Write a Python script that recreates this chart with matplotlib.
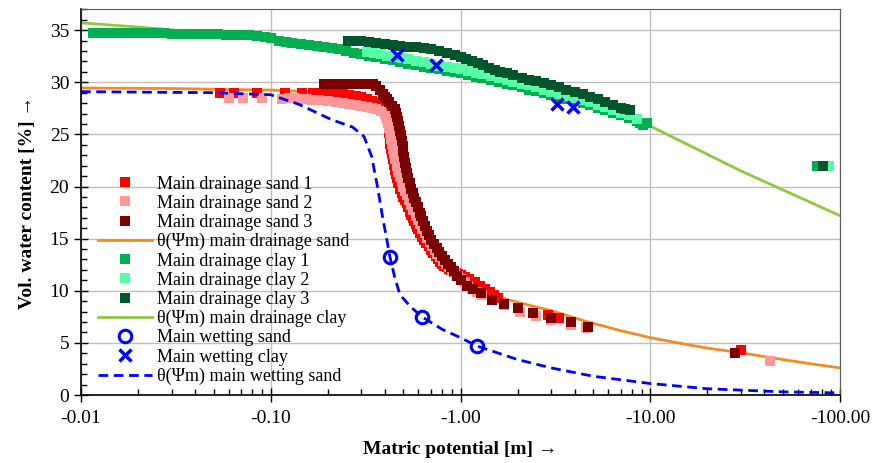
import matplotlib
matplotlib.use("Agg")
import matplotlib.pyplot as plt
from matplotlib.ticker import FixedLocator, LogLocator, MultipleLocator, FuncFormatter, NullFormatter

plt.rcParams['font.family'] = ['Liberation Serif', 'DejaVu Serif']

# suction magnitude |Psi_m| in m (axis shows negative matric potential)
sand1_psi = [0.054, 0.064, 0.085, 0.119, 0.147, 0.167, 0.18, 0.195, 0.21, 0.225, 0.24, 0.26, 0.28, 0.30,
             0.32, 0.34, 0.36, 0.38, 0.395, 0.40, 0.405, 0.41, 0.415, 0.418, 0.421, 0.424, 0.427, 0.43,
             0.435, 0.44, 0.445, 0.45, 0.455, 0.46, 0.47, 0.48, 0.49, 0.50, 0.51, 0.52, 0.53, 0.54, 0.55,
             0.56, 0.57, 0.58, 0.59, 0.60, 0.615, 0.63, 0.645, 0.66, 0.68, 0.70, 0.72, 0.74, 0.76, 0.78,
             0.80, 0.82, 0.845, 0.87, 0.895, 0.92, 0.945, 0.97, 1.0, 1.05, 1.11, 1.19, 1.27, 1.35, 1.43,
             1.5, 1.57, 2.9, 3.3, 30.2]
sand1_theta = [29.0, 29.0, 29.0, 29.0, 29.0, 29.0, 29.0, 28.95, 28.9, 28.9, 28.85, 28.8, 28.7, 28.6,
               28.4, 28.2, 28.0, 27.8, 27.5, 27.2, 26.9, 26.5, 26.1, 25.6, 25.1, 24.6, 24.1, 23.6,
               23.1, 22.6, 22.1, 21.6, 21.2, 20.8, 20.3, 19.8, 19.4, 19.0, 18.7, 18.4, 18.0, 17.6, 17.3,
               17.0, 16.7, 16.4, 16.15, 15.9, 15.55, 15.2, 14.9, 14.6, 14.25, 13.9, 13.6, 13.3, 13.05, 12.8,
               12.6, 12.4, 12.25, 12.1, 11.95, 11.8, 11.7, 11.6, 11.5, 11.3, 11.1, 10.8, 10.5, 10.2, 9.9,
               9.6, 9.3, 7.7, 7.4, 4.3]

sand2_psi = [0.06, 0.071, 0.09, 0.114, 0.125, 0.135, 0.145, 0.155, 0.165, 0.18, 0.2, 0.22, 0.24, 0.26,
             0.28, 0.30, 0.32, 0.34, 0.36, 0.38, 0.40, 0.405, 0.41, 0.415, 0.42, 0.425, 0.43, 0.435, 0.44,
             0.445, 0.45, 0.46, 0.47, 0.48, 0.49, 0.50, 0.51, 0.52, 0.535, 0.55, 0.565, 0.58, 0.595, 0.61,
             0.63, 0.65, 0.67, 0.69, 0.71, 0.73, 0.755, 0.78, 0.81, 0.84, 0.87, 0.90, 0.935, 0.97, 1.01,
             1.05, 1.1, 1.15, 1.22, 1.3, 1.7, 2.05, 2.5, 3.0, 3.8, 4.6, 43.0]
sand2_theta = [28.5, 28.5, 28.5, 28.4, 28.5, 28.5, 28.4, 28.4, 28.3, 28.3, 28.2, 28.1, 28.0, 27.9,
               27.8, 27.7, 27.6, 27.5, 27.4, 27.2, 27.0, 26.8, 26.5, 26.1, 25.6, 25.1, 24.6, 24.1, 23.6,
               23.1, 22.6, 22.0, 21.4, 20.9, 20.4, 20.0, 19.6, 19.2, 18.7, 18.2, 17.7, 17.2, 16.8, 16.4,
               15.9, 15.5, 15.1, 14.7, 14.3, 13.9, 13.55, 13.2, 12.9, 12.6, 12.3, 12.0, 11.7, 11.4, 11.1,
               10.8, 10.5, 10.2, 9.9, 9.6, 8.6, 8.0, 7.6, 7.2, 6.7, 6.4, 3.3]

sand3_psi = [0.19, 0.20, 0.21, 0.22, 0.23, 0.26, 0.27, 0.30, 0.31, 0.32, 0.33, 0.345, 0.36, 0.375, 0.39,
             0.40, 0.41, 0.42, 0.435, 0.45, 0.458, 0.465, 0.47, 0.475, 0.48, 0.485, 0.49, 0.495, 0.50,
             0.505, 0.51, 0.515, 0.52, 0.53, 0.54, 0.55, 0.56, 0.57, 0.58, 0.595, 0.61, 0.62, 0.635, 0.65,
             0.665, 0.68, 0.70, 0.725, 0.75, 0.775, 0.80, 0.83, 0.86, 0.89, 0.92, 0.96, 1.0, 1.08, 1.16,
             1.29, 1.46, 1.7, 2.0, 2.4, 3.0, 3.8, 4.7, 28.0]
sand3_theta = [29.8, 29.8, 29.8, 29.8, 29.8, 29.8, 29.8, 29.8, 29.8, 29.8, 29.8, 29.8, 29.6, 29.3, 28.9,
               28.6, 28.35, 28.1, 27.75, 27.4, 27.05, 26.7, 26.25, 25.8, 25.35, 24.9, 24.4, 23.9, 23.4,
               22.8, 22.3, 21.8, 21.3, 20.8, 20.3, 19.8, 19.4, 18.9, 18.5, 18.0, 17.5, 17.15, 16.7, 16.2,
               15.75, 15.35, 14.9, 14.5, 14.1, 13.7, 13.35, 12.95, 12.6, 12.25, 11.9, 11.45, 11.0, 10.5, 10.2,
               9.8, 9.1, 8.7, 8.3, 7.9, 7.4, 7.0, 6.5, 4.0]

sand_fit_psi = [0.01, 0.03, 0.063, 0.1, 0.16, 0.21, 0.27, 0.32, 0.35, 0.38, 0.40, 0.42, 0.44, 0.46, 0.48,
                0.51, 0.55, 0.60, 0.65, 0.72, 0.80, 0.90, 1.0, 1.2, 1.66, 2.2, 3.0, 4.5, 6.9, 10.0,
                15.0, 20.0, 30.0, 50.0, 70.0, 100.0]
sand_fit_theta = [29.45, 29.4, 29.3, 29.25, 29.1, 28.95, 28.75, 28.55, 28.3, 27.9, 27.3, 26.6, 25.8, 24.2,
                  22.5, 20.6, 18.5, 16.7, 15.0, 13.6, 12.3, 11.5, 10.9, 10.2, 9.3, 8.7, 8.1, 7.1, 6.2, 5.5,
                  4.9, 4.5, 4.05, 3.4, 3.0, 2.6]

clay1_psi = [0.0115, 0.0125, 0.0135, 0.0145, 0.016, 0.0175, 0.019, 0.021, 0.023, 0.025, 0.0275, 0.030,
             0.033, 0.036, 0.040, 0.044, 0.048, 0.053, 0.058, 0.064, 0.070, 0.077, 0.085, 0.093, 0.10,
             0.11, 0.12, 0.13, 0.145, 0.16, 0.175, 0.19, 0.21, 0.23, 0.25, 0.275, 0.30, 0.33, 0.36, 0.40,
             0.44, 0.48, 0.53, 0.58, 0.64, 0.70, 0.77, 0.85, 0.93, 1.0, 1.1, 1.2, 1.3, 1.45, 1.6, 1.75,
             1.9, 2.1, 2.3, 2.5, 2.75, 3.0, 3.3, 3.6, 4.0, 4.4, 4.8, 5.3, 5.8, 6.4, 7.0, 7.7, 8.5, 8.8,
             9.2, 9.6, 76.0]
clay1_theta = [34.7, 34.7, 34.7, 34.7, 34.7, 34.7, 34.7, 34.7, 34.7, 34.7, 34.7, 34.65,
               34.65, 34.65, 34.6, 34.6, 34.6, 34.6, 34.55, 34.55, 34.5, 34.5, 34.45, 34.35, 34.2,
               34.0, 33.9, 33.8, 33.65, 33.55, 33.45, 33.4, 33.3, 33.15, 33.0, 32.85, 32.7, 32.55, 32.4, 32.25,
               32.1, 31.95, 31.8, 31.65, 31.5, 31.4, 31.25, 31.1, 31.0, 30.85, 30.7, 30.55, 30.4, 30.2, 30.0, 29.85,
               29.7, 29.5, 29.3, 29.15, 28.95, 28.75, 28.55, 28.4, 28.2, 28.0, 27.8, 27.55, 27.35, 27.1, 26.9,
               26.6, 26.3, 26.1, 25.9, 26.1, 22.0]

clay2_psi = [0.32, 0.35, 0.38, 0.41, 0.45, 0.49, 0.53, 0.58, 0.64, 0.70, 0.77, 0.85, 0.93, 1.0, 1.1,
             1.2, 1.3, 1.45, 1.6, 1.75, 1.9, 2.1, 2.3, 2.5, 2.75, 3.0, 3.3, 3.6, 4.0, 4.4, 4.8, 5.3, 5.8,
             6.4, 7.0, 7.7, 8.5, 87.0]
clay2_theta = [32.9, 32.8, 32.7, 32.55, 32.45, 32.3, 32.2, 32.05, 31.9, 31.75, 31.6, 31.45, 31.35, 31.25,
               31.05, 30.9, 30.75, 30.6, 30.4, 30.25, 30.05, 29.85, 29.7, 29.5, 29.3, 29.1, 28.9, 28.7,
               28.5, 28.3, 28.1, 27.85, 27.6, 27.35, 27.1, 26.85, 26.5, 22.0]

clay3_psi = [0.256, 0.275, 0.30, 0.33, 0.36, 0.40, 0.44, 0.48, 0.53, 0.58, 0.64, 0.70, 0.77, 0.85, 0.93,
             1.0, 1.07, 1.15, 1.23, 1.32, 1.42, 1.52, 1.62, 1.75, 1.9, 2.1, 2.3, 2.5, 2.75, 3.0, 3.3, 3.6,
             4.0, 4.4, 4.8, 5.3, 5.8, 6.4, 7.0, 7.4, 7.8, 81.0]
clay3_theta = [34.0, 34.0, 33.95, 33.9, 33.8, 33.7, 33.6, 33.5, 33.4, 33.35, 33.25, 33.15, 33.0, 32.8, 32.6,
               32.45, 32.25, 32.05, 31.85, 31.65, 31.4, 31.2, 31.0, 30.85, 30.65, 30.45, 30.25, 30.1, 29.9,
               29.7, 29.5, 29.3, 29.05, 28.85, 28.6, 28.35, 28.1, 27.85, 27.55, 27.4, 27.3, 22.0]

clay_fit_psi = [0.01, 0.02, 0.042, 0.1, 0.3, 1.0, 3.0, 10.0, 30.0, 100.0]
clay_fit_theta = [35.7, 35.3, 34.8, 34.4, 33.0, 31.3, 28.9, 25.8, 21.5, 17.2]

wet_sand_psi = [0.425, 0.627, 1.22]
wet_sand_theta = [13.2, 7.5, 4.7]

wet_clay_psi = [0.46, 0.74, 3.23, 3.93]
wet_clay_theta = [32.6, 31.7, 27.9, 27.6]

wet_fit_psi = [0.01, 0.05, 0.1, 0.14, 0.21, 0.27, 0.31, 0.34, 0.365, 0.39, 0.41, 0.425, 0.45, 0.48,
               0.55, 0.627, 0.8, 1.0, 1.22, 2.0, 3.0, 5.0, 10.0, 20.0, 50.0, 100.0]
wet_fit_theta = [29.1, 29.0, 28.8, 27.9, 26.4, 25.7, 24.8, 22.9, 20.0, 16.9, 14.8, 13.2, 11.3, 9.6,
                 8.4, 7.5, 6.3, 5.5, 4.7, 3.4, 2.6, 1.8, 1.1, 0.6, 0.3, 0.2]

fig = plt.figure(figsize=(8.74, 4.63), dpi=100)
ax = fig.add_axes([81 / 874, 1 - 395 / 463, 759 / 874, 385.7 / 463])

ms = 6.5
ax.plot(sand_fit_psi, sand_fit_theta, color='#F58B27', lw=2, zorder=2, label='θ(Ψm) main drainage sand')
ax.plot(clay_fit_psi, clay_fit_theta, color='#92C83E', lw=2, zorder=2, label='θ(Ψm) main drainage clay')
ax.plot(sand1_psi, sand1_theta, 's', color='#FF0000', ms=ms, mew=0, zorder=3, label='Main drainage sand 1')
ax.plot(sand2_psi, sand2_theta, 's', color='#FF9999', ms=ms, mew=0, zorder=3, label='Main drainage sand 2')
ax.plot(sand3_psi, sand3_theta, 's', color='#7B0000', ms=ms, mew=0, zorder=3, label='Main drainage sand 3')
ax.plot(clay1_psi, clay1_theta, 's', color='#00B050', ms=ms, mew=0, zorder=3, label='Main drainage clay 1')
ax.plot(clay2_psi, clay2_theta, 's', color='#55FFA5', ms=ms, mew=0, zorder=3, label='Main drainage clay 2')
ax.plot(clay3_psi, clay3_theta, 's', color='#00562B', ms=ms, mew=0, zorder=3, label='Main drainage clay 3')
ax.plot(wet_fit_psi, wet_fit_theta, color='#0000FF', lw=2, dashes=(3.5, 2), zorder=4,
        label='θ(Ψm) main wetting sand')
ax.plot(wet_sand_psi, wet_sand_theta, 'o', mfc='none', mec='#0000FF', ms=9, mew=2.2, zorder=5,
        label='Main wetting sand')
ax.plot(wet_clay_psi, wet_clay_theta, 'x', color='#0000FF', ms=9, mew=2.5, zorder=5,
        label='Main wetting clay')

ax.set_xscale('log')
ax.set_xlim(0.01, 100)
ax.set_ylim(0, 37)

ax.xaxis.set_major_locator(FixedLocator([0.01, 0.1, 1, 10, 100]))
ax.xaxis.set_minor_locator(LogLocator(base=10, subs=range(2, 10)))
ax.xaxis.set_major_formatter(FuncFormatter(lambda v, p: f"-{v:.2f}"))
ax.xaxis.set_minor_formatter(NullFormatter())
ax.yaxis.set_major_locator(MultipleLocator(5))
ax.yaxis.set_minor_locator(MultipleLocator(1))

ax.grid(True, which='major', color='#BFBFBF', lw=1)
ax.set_axisbelow(True)
ax.tick_params(which='major', direction='inout', length=10, width=1, labelsize=14, colors='black')
ax.tick_params(which='minor', direction='in', length=4, width=1)
ax.tick_params(axis='x', pad=6)
for s in ['top', 'right']:
    ax.spines[s].set_color('#595959')
for s in ['left', 'bottom']:
    ax.spines[s].set_color('black')
    ax.spines[s].set_linewidth(1.2)

ax.set_xlabel('Matric potential [m] →', fontsize=14, fontweight='bold', labelpad=10)
ax.set_ylabel('Vol. water content [%] →', fontsize=14, fontweight='bold', labelpad=10)

order = ['Main drainage sand 1', 'Main drainage sand 2', 'Main drainage sand 3', 'θ(Ψm) main drainage sand',
         'Main drainage clay 1', 'Main drainage clay 2', 'Main drainage clay 3', 'θ(Ψm) main drainage clay',
         'Main wetting sand', 'Main wetting clay', 'θ(Ψm) main wetting sand']
handles, labels = ax.get_legend_handles_labels()
hmap = dict(zip(labels, handles))
leg = ax.legend([hmap[k] for k in order], order, loc='upper left', bbox_to_anchor=(0.022, 0.569),
                frameon=False, fontsize=13, handlelength=3.0, handletextpad=0.3, labelspacing=0.12,
                borderpad=0, borderaxespad=0)

fig.savefig('out.png', dpi=100)
